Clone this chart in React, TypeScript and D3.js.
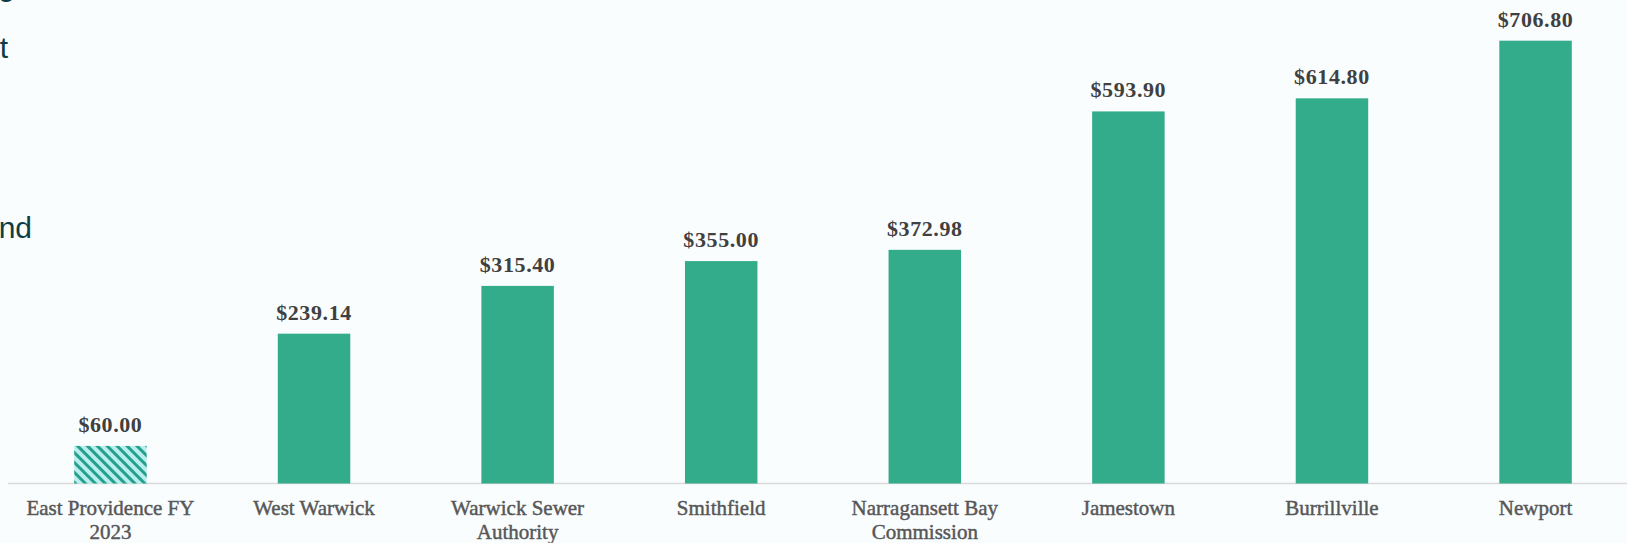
import React from "react";
import * as d3 from "d3";

const categories = [
  "East Providence FY 2023",
  "West Warwick",
  "Warwick Sewer Authority",
  "Smithfield",
  "Narragansett Bay Commission",
  "Jamestown",
  "Burrillville",
  "Newport",
];
const categoryLines = [
  ["East Providence FY", "2023"],
  ["West Warwick"],
  ["Warwick Sewer", "Authority"],
  ["Smithfield"],
  ["Narragansett Bay", "Commission"],
  ["Jamestown"],
  ["Burrillville"],
  ["Newport"],
];
const values = [60.0, 239.14, 315.4, 355.0, 372.98, 593.9, 614.8, 706.8];
const hatched = [true, false, false, false, false, false, false, false];
const sideTextFragments = ["g", "t", "nd"];

const W = 1627;
const H = 543;
const baseY = 483.5;

export default function App() {
  const x = d3
    .scaleBand<string>()
    .domain(categories)
    .range([40, 1606])
    .paddingInner(0.644)
    .paddingOuter(0.168);
  const y = d3.scaleLinear().domain([0, 800]).range([baseY, baseY - 800 * 0.6265]);
  const fmt = (v: number) => "$" + d3.format(",.2f")(v);

  const sideY = [-4.5, 58, 238];
  const sideX = [15, 8, 32];

  return (
    <svg
      width={W}
      height={H}
      style={{ position: "absolute", left: 0, top: 0, display: "block" }}
    >
      <defs>
        <pattern
          id="hatch"
          patternUnits="userSpaceOnUse"
          width={7}
          height={7}
          patternTransform="rotate(45)"
        >
          <rect width={7} height={7} fill="#b9edf1" />
          <rect width={7} height={3} fill="#24a287" />
        </pattern>
      </defs>
      <rect width={W} height={H} fill="#fafdfe" />

      {sideTextFragments.map((t, i) => (
        <text
          key={"s" + i}
          x={sideX[i]}
          y={sideY[i]}
          textAnchor="end"
          fontFamily="'Liberation Sans', Arial, sans-serif"
          fontSize={30}
          fill="#0e3d46"
        >
          {t}
        </text>
      ))}

      <line x1={8} x2={W} y1={baseY} y2={baseY} stroke="#d9d9d9" strokeWidth={1.5} />

      {categories.map((c, i) => {
        const bx = x(c)!;
        const bw = x.bandwidth();
        const top = y(values[i]);
        return (
          <g key={c}>
            <rect
              x={bx}
              y={top}
              width={bw}
              height={baseY - top}
              fill={hatched[i] ? "url(#hatch)" : "#33ac8b"}
            />
            <text
              x={bx + bw / 2}
              y={top - 14}
              textAnchor="middle"
              fontFamily="'Liberation Serif', 'Times New Roman', serif"
              fontWeight="bold"
              fontSize={22}
              letterSpacing={0.6}
              fill="#404040"
            >
              {fmt(values[i])}
            </text>
            {categoryLines[i].map((ln, j) => (
              <text
                key={j}
                x={bx + bw / 2}
                y={515 + j * 23.5}
                textAnchor="middle"
                fontFamily="'Liberation Serif', 'Times New Roman', serif"
                fontSize={21}
                fill="#575757"
                stroke="#575757"
                strokeWidth={0.45}
              >
                {ln}
              </text>
            ))}
          </g>
        );
      })}
    </svg>
  );
}
